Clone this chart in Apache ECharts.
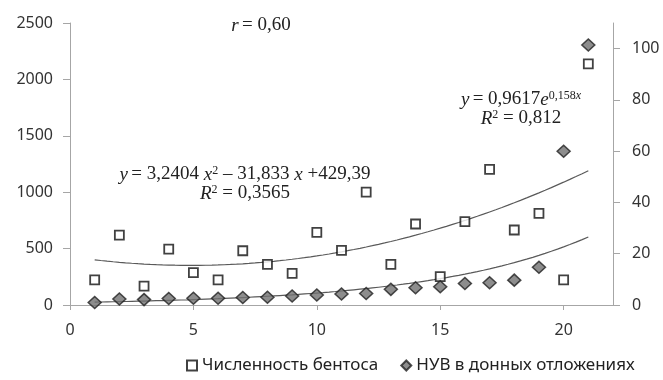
<!DOCTYPE html>
<html>
<head>
<meta charset="utf-8">
<script src="https://cdn.jsdelivr.net/npm/echarts@6/dist/echarts.min.js"></script>
<style>
  html, body { margin: 0; padding: 0; background: #fff; }
  #chart { width: 663px; height: 380px; }
</style>
</head>
<body>
<div id="chart"></div>
<script>
// номера станций
const stations = [1, 2, 3, 4, 5, 6, 7, 8, 9, 10, 11, 12, 13, 14, 15, 16, 17, 18, 19, 20, 21]
// численность бентоса (левая ось)
const benthos = [222, 620, 168, 496, 287, 222, 481, 360, 281, 644, 485, 1000, 360, 718, 251, 739, 1203, 665, 813, 222, 2137]
// НУВ в донных отложениях (правая ось)
const nuv = [1.0, 2.3, 2.1, 2.5, 2.6, 2.6, 2.9, 3.0, 3.5, 3.9, 4.3, 4.5, 6.1, 6.7, 7.1, 8.4, 8.7, 9.7, 14.7, 60, 101.4]
// коэффициенты линий тренда, как подписаны на графике
const polyCoef = [429.39, -31.833, 3.2404] // a0 + a1*x + a2*x^2
const expCoef = [0.9617, 0.158] // a*e^(b*x)
// подписи осей
const xTicks = [0, 5, 10, 15, 20]
const leftTicks = [0, 500, 1000, 1500, 2000, 2500]
const rightTicks = [0, 20, 40, 60, 80, 100]

const names = ['Численность бентоса', 'НУВ в донных отложениях']

// точки линий тренда
const polyTrend = []
const expTrend = []
for (let x = stations[0]; x <= stations[stations.length - 1] + 1e-9; x += 0.25) {
  polyTrend.push([x, polyCoef[0] + polyCoef[1] * x + polyCoef[2] * x * x])
  expTrend.push([x, expCoef[0] * Math.exp(expCoef[1] * x)])
}

const axisColor = '#a6a6a6'
const labelFont = { color: '#333', fontSize: 16, fontFamily: 'Noto Sans', formatter: (v) => String(v) }
const serif = 'Liberation Serif'
const rich = {
  i: { fontFamily: serif, fontSize: 19, fontStyle: 'italic', fill: '#222', lineHeight: 19 },
  n: { fontFamily: serif, fontSize: 19, fill: '#222', lineHeight: 19 },
  s: { fontFamily: serif, fontSize: 12, fill: '#222', verticalAlign: 'top', lineHeight: 19 },
  si: { fontFamily: serif, fontSize: 12, fontStyle: 'italic', fill: '#222', verticalAlign: 'top', lineHeight: 19 }
}

const chart = echarts.init(document.getElementById('chart'))
chart.setOption({
  animation: false,
  grid: { left: 70, right: 50, top: 23, bottom: 75, outerBoundsMode: 'none' },
  legend: {
    data: [{ name: names[0], icon: 'rect' }, { name: names[1], icon: 'diamond' }],
    left: 181,
    top: 352,
    itemWidth: 10,
    itemHeight: 10,
    itemGap: 22,
    textStyle: { color: '#222', fontSize: 17, fontFamily: 'Noto Sans' }
  },
  xAxis: {
    type: 'value',
    min: 0,
    max: 22,
    axisLine: { show: true, onZero: false, lineStyle: { color: axisColor } },
    axisTick: { show: true, length: 5, customValues: xTicks, lineStyle: { color: axisColor } },
    axisLabel: Object.assign({ margin: 17, customValues: xTicks }, labelFont),
    splitLine: { show: false }
  },
  yAxis: [
    {
      type: 'value',
      min: 0,
      max: 2500,
      interval: 500,
      axisLine: { show: true, lineStyle: { color: axisColor } },
      axisTick: { show: true, length: 7, customValues: leftTicks, lineStyle: { color: axisColor } },
      axisLabel: Object.assign({ margin: 17, customValues: leftTicks }, labelFont),
      splitLine: { show: false }
    },
    {
      type: 'value',
      position: 'right',
      min: 0,
      max: 110,
      interval: 20,
      axisLine: { show: true, lineStyle: { color: axisColor } },
      axisTick: { show: true, length: 7, customValues: rightTicks, lineStyle: { color: axisColor } },
      axisLabel: Object.assign({ margin: 19, customValues: rightTicks }, labelFont),
      splitLine: { show: false }
    }
  ],
  series: [
    {
      name: 'poly',
      type: 'line',
      yAxisIndex: 0,
      data: polyTrend,
      showSymbol: false,
      silent: true,
      lineStyle: { color: '#595959', width: 1.2 },
      z: 1
    },
    {
      name: 'exp',
      type: 'line',
      yAxisIndex: 1,
      data: expTrend,
      showSymbol: false,
      silent: true,
      lineStyle: { color: '#595959', width: 1.2 },
      z: 1
    },
    {
      name: names[0],
      type: 'scatter',
      yAxisIndex: 0,
      symbol: 'rect',
      symbolSize: 9,
      data: stations.map((x, i) => [x, benthos[i]]),
      itemStyle: { color: '#fff', borderColor: '#111', borderWidth: 1.8 },
      z: 3
    },
    {
      name: names[1],
      type: 'scatter',
      yAxisIndex: 1,
      symbol: 'diamond',
      symbolSize: [13, 12],
      data: stations.map((x, i) => [x, nuv[i]]),
      itemStyle: { color: '#707070', borderColor: '#222', borderWidth: 1.5 },
      z: 4
    }
  ],
  graphic: [
    {
      type: 'text',
      x: 261,
      y: 16,
      style: {
        text: '{i|r} {n|= 0,60}',
        rich: rich,
        align: 'center',
        verticalAlign: 'top'
      }
    },
    {
      type: 'text',
      x: 245,
      y: 165,
      style: {
        text: '{i|y} {n|= 3,2404 }{i|x}{s|2}{n| – 31,833 }{i|x}{n| +429,39}\n{i|R}{s|2}{n| = 0,3565}',
        rich: rich,
        align: 'center',
        verticalAlign: 'top'
      }
    },
    {
      type: 'text',
      x: 521,
      y: 90,
      style: {
        text: '{i|y} {n|= 0,9617}{i|e}{s|0,158}{si|x}\n{i|R}{s|2}{n| = 0,812}',
        rich: rich,
        align: 'center',
        verticalAlign: 'top'
      }
    }
  ]
})
</script>
</body>
</html>
